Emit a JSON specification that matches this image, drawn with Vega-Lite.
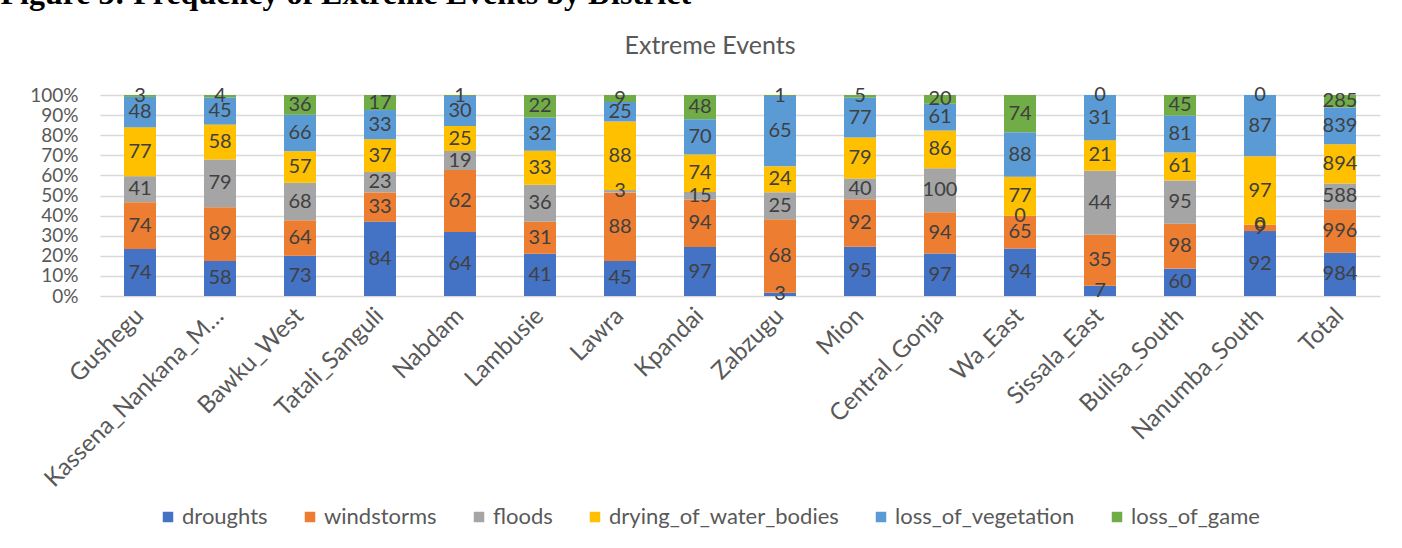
{
  "$schema": "https://vega.github.io/schema/vega-lite/v6.json",
  "autosize": {"type": "none"},
  "width": 1280,
  "height": 201,
  "padding": {"left": 100, "top": 95, "right": 22, "bottom": 252},
  "background": "white",
  "config": {"font": "Lato", "view": {"stroke": null}},
  "title": {"text": "Extreme Events", "fontSize": 25, "font": "Lato", "fontWeight": "normal", "color": "#595959", "anchor": "middle", "dx": -30, "offset": 0, "dy": 82},
  "datasets": {
    "events": [
      {"event": "droughts", "rank": 1},
      {"event": "windstorms", "rank": 2},
      {"event": "floods", "rank": 3},
      {"event": "drying_of_water_bodies", "rank": 4},
      {"event": "loss_of_vegetation", "rank": 5},
      {"event": "loss_of_game", "rank": 6}
    ],
    "freq": [
      {"district": "Gushegu", "event": "droughts", "count": 74},
      {"district": "Gushegu", "event": "windstorms", "count": 74},
      {"district": "Gushegu", "event": "floods", "count": 41},
      {"district": "Gushegu", "event": "drying_of_water_bodies", "count": 77},
      {"district": "Gushegu", "event": "loss_of_vegetation", "count": 48},
      {"district": "Gushegu", "event": "loss_of_game", "count": 3},
      {"district": "Kassena_Nankana_Municipal", "event": "droughts", "count": 58},
      {"district": "Kassena_Nankana_Municipal", "event": "windstorms", "count": 89},
      {"district": "Kassena_Nankana_Municipal", "event": "floods", "count": 79},
      {"district": "Kassena_Nankana_Municipal", "event": "drying_of_water_bodies", "count": 58},
      {"district": "Kassena_Nankana_Municipal", "event": "loss_of_vegetation", "count": 45},
      {"district": "Kassena_Nankana_Municipal", "event": "loss_of_game", "count": 4},
      {"district": "Bawku_West", "event": "droughts", "count": 73},
      {"district": "Bawku_West", "event": "windstorms", "count": 64},
      {"district": "Bawku_West", "event": "floods", "count": 68},
      {"district": "Bawku_West", "event": "drying_of_water_bodies", "count": 57},
      {"district": "Bawku_West", "event": "loss_of_vegetation", "count": 66},
      {"district": "Bawku_West", "event": "loss_of_game", "count": 36},
      {"district": "Tatali_Sanguli", "event": "droughts", "count": 84},
      {"district": "Tatali_Sanguli", "event": "windstorms", "count": 33},
      {"district": "Tatali_Sanguli", "event": "floods", "count": 23},
      {"district": "Tatali_Sanguli", "event": "drying_of_water_bodies", "count": 37},
      {"district": "Tatali_Sanguli", "event": "loss_of_vegetation", "count": 33},
      {"district": "Tatali_Sanguli", "event": "loss_of_game", "count": 17},
      {"district": "Nabdam", "event": "droughts", "count": 64},
      {"district": "Nabdam", "event": "windstorms", "count": 62},
      {"district": "Nabdam", "event": "floods", "count": 19},
      {"district": "Nabdam", "event": "drying_of_water_bodies", "count": 25},
      {"district": "Nabdam", "event": "loss_of_vegetation", "count": 30},
      {"district": "Nabdam", "event": "loss_of_game", "count": 1},
      {"district": "Lambusie", "event": "droughts", "count": 41},
      {"district": "Lambusie", "event": "windstorms", "count": 31},
      {"district": "Lambusie", "event": "floods", "count": 36},
      {"district": "Lambusie", "event": "drying_of_water_bodies", "count": 33},
      {"district": "Lambusie", "event": "loss_of_vegetation", "count": 32},
      {"district": "Lambusie", "event": "loss_of_game", "count": 22},
      {"district": "Lawra", "event": "droughts", "count": 45},
      {"district": "Lawra", "event": "windstorms", "count": 88},
      {"district": "Lawra", "event": "floods", "count": 3},
      {"district": "Lawra", "event": "drying_of_water_bodies", "count": 88},
      {"district": "Lawra", "event": "loss_of_vegetation", "count": 25},
      {"district": "Lawra", "event": "loss_of_game", "count": 9},
      {"district": "Kpandai", "event": "droughts", "count": 97},
      {"district": "Kpandai", "event": "windstorms", "count": 94},
      {"district": "Kpandai", "event": "floods", "count": 15},
      {"district": "Kpandai", "event": "drying_of_water_bodies", "count": 74},
      {"district": "Kpandai", "event": "loss_of_vegetation", "count": 70},
      {"district": "Kpandai", "event": "loss_of_game", "count": 48},
      {"district": "Zabzugu", "event": "droughts", "count": 3},
      {"district": "Zabzugu", "event": "windstorms", "count": 68},
      {"district": "Zabzugu", "event": "floods", "count": 25},
      {"district": "Zabzugu", "event": "drying_of_water_bodies", "count": 24},
      {"district": "Zabzugu", "event": "loss_of_vegetation", "count": 65},
      {"district": "Zabzugu", "event": "loss_of_game", "count": 1},
      {"district": "Mion", "event": "droughts", "count": 95},
      {"district": "Mion", "event": "windstorms", "count": 92},
      {"district": "Mion", "event": "floods", "count": 40},
      {"district": "Mion", "event": "drying_of_water_bodies", "count": 79},
      {"district": "Mion", "event": "loss_of_vegetation", "count": 77},
      {"district": "Mion", "event": "loss_of_game", "count": 5},
      {"district": "Central_Gonja", "event": "droughts", "count": 97},
      {"district": "Central_Gonja", "event": "windstorms", "count": 94},
      {"district": "Central_Gonja", "event": "floods", "count": 100},
      {"district": "Central_Gonja", "event": "drying_of_water_bodies", "count": 86},
      {"district": "Central_Gonja", "event": "loss_of_vegetation", "count": 61},
      {"district": "Central_Gonja", "event": "loss_of_game", "count": 20},
      {"district": "Wa_East", "event": "droughts", "count": 94},
      {"district": "Wa_East", "event": "windstorms", "count": 65},
      {"district": "Wa_East", "event": "floods", "count": 0},
      {"district": "Wa_East", "event": "drying_of_water_bodies", "count": 77},
      {"district": "Wa_East", "event": "loss_of_vegetation", "count": 88},
      {"district": "Wa_East", "event": "loss_of_game", "count": 74},
      {"district": "Sissala_East", "event": "droughts", "count": 7},
      {"district": "Sissala_East", "event": "windstorms", "count": 35},
      {"district": "Sissala_East", "event": "floods", "count": 44},
      {"district": "Sissala_East", "event": "drying_of_water_bodies", "count": 21},
      {"district": "Sissala_East", "event": "loss_of_vegetation", "count": 31},
      {"district": "Sissala_East", "event": "loss_of_game", "count": 0},
      {"district": "Builsa_South", "event": "droughts", "count": 60},
      {"district": "Builsa_South", "event": "windstorms", "count": 98},
      {"district": "Builsa_South", "event": "floods", "count": 95},
      {"district": "Builsa_South", "event": "drying_of_water_bodies", "count": 61},
      {"district": "Builsa_South", "event": "loss_of_vegetation", "count": 81},
      {"district": "Builsa_South", "event": "loss_of_game", "count": 45},
      {"district": "Nanumba_South", "event": "droughts", "count": 92},
      {"district": "Nanumba_South", "event": "windstorms", "count": 9},
      {"district": "Nanumba_South", "event": "floods", "count": 0},
      {"district": "Nanumba_South", "event": "drying_of_water_bodies", "count": 97},
      {"district": "Nanumba_South", "event": "loss_of_vegetation", "count": 87},
      {"district": "Nanumba_South", "event": "loss_of_game", "count": 0},
      {"district": "Total", "event": "droughts", "count": 984},
      {"district": "Total", "event": "windstorms", "count": 996},
      {"district": "Total", "event": "floods", "count": 588},
      {"district": "Total", "event": "drying_of_water_bodies", "count": 894},
      {"district": "Total", "event": "loss_of_vegetation", "count": 839},
      {"district": "Total", "event": "loss_of_game", "count": 285}
    ]
  },
  "data": {"name": "freq"},
  "transform": [
    {"lookup": "event", "from": {"data": {"name": "events"}, "key": "event", "fields": ["rank"]}}
  ],
  "encoding": {
    "x": {
      "field": "district", "type": "nominal", "sort": null,
      "scale": {"paddingInner": 0.6, "paddingOuter": 0.3},
      "axis": {"title": null, "labelAngle": -45, "labelAlign": "right", "labelBaseline": "middle", "labelFontSize": 24, "labelColor": "#595959", "labelFont": "Lato", "ticks": false, "domain": false, "grid": false, "labelPadding": 16, "labelLimit": 245}
    },
    "order": {"field": "rank", "type": "quantitative", "sort": "ascending"}
  },
  "layer": [
    {
      "mark": {"type": "bar"},
      "encoding": {
        "y": {
          "field": "count", "type": "quantitative", "stack": "normalize",
          "axis": {
            "title": "Figure 3: Frequency of Extreme Events by District",
            "titleAngle": 0, "titleAlign": "left", "titleBaseline": "alphabetic", "titleX": -100, "titleY": -92,
            "titleFont": "Liberation Serif", "titleFontWeight": "bold", "titleFontSize": 32, "titleColor": "#000000",
            "format": ".0%", "values": [0, 0.1, 0.2, 0.3, 0.4, 0.5, 0.6, 0.7, 0.8, 0.9, 1], "labelOverlap": false,
            "labelFontSize": 19, "labelColor": "#595959", "labelFont": "Lato", "ticks": false, "domain": false, "labelPadding": 22,
            "gridColor": "#D9D9D9", "gridWidth": 1.5
          }
        },
        "color": {
          "field": "event", "type": "nominal",
          "sort": ["droughts", "windstorms", "floods", "drying_of_water_bodies", "loss_of_vegetation", "loss_of_game"],
          "scale": {"domain": ["droughts", "windstorms", "floods", "drying_of_water_bodies", "loss_of_vegetation", "loss_of_game"], "range": ["#4472C4", "#ED7D31", "#A5A5A5", "#FFC000", "#5B9BD5", "#70AD47"]},
          "legend": {"orient": "none", "legendX": 57, "legendY": 411, "direction": "horizontal", "title": null, "symbolType": "square", "symbolSize": 110, "symbolStrokeWidth": 0, "labelFontSize": 22, "labelColor": "#595959", "labelFont": "Lato", "labelLimit": 400, "columnPadding": 31, "labelOffset": 3}
        }
      }
    },
    {
      "mark": {"type": "text", "fontSize": 20, "font": "Lato"},
      "encoding": {
        "y": {
          "field": "count", "type": "quantitative", "stack": "normalize", "bandPosition": 0.5,
          "axis": {
            "title": "Figure 3: Frequency of Extreme Events by District",
            "titleAngle": 0, "titleAlign": "left", "titleBaseline": "alphabetic", "titleX": -100, "titleY": -92,
            "titleFont": "Liberation Serif", "titleFontWeight": "bold", "titleFontSize": 32, "titleColor": "#000000",
            "format": ".0%", "values": [0, 0.1, 0.2, 0.3, 0.4, 0.5, 0.6, 0.7, 0.8, 0.9, 1], "labelOverlap": false,
            "labelFontSize": 19, "labelColor": "#595959", "labelFont": "Lato", "ticks": false, "domain": false, "labelPadding": 22,
            "gridColor": "#D9D9D9", "gridWidth": 1.5
          }
        },
        "text": {"field": "count", "type": "quantitative"},
        "color": {
          "field": "event", "type": "nominal",
          "sort": ["droughts", "windstorms", "floods", "drying_of_water_bodies", "loss_of_vegetation", "loss_of_game"],
          "scale": {"domain": ["droughts", "windstorms", "floods", "drying_of_water_bodies", "loss_of_vegetation", "loss_of_game"], "range": ["#404040", "#404040", "#404040", "#404040", "#404040", "#404040"]},
          "legend": null
        }
      }
    }
  ],
  "resolve": {"scale": {"color": "independent"}}
}
